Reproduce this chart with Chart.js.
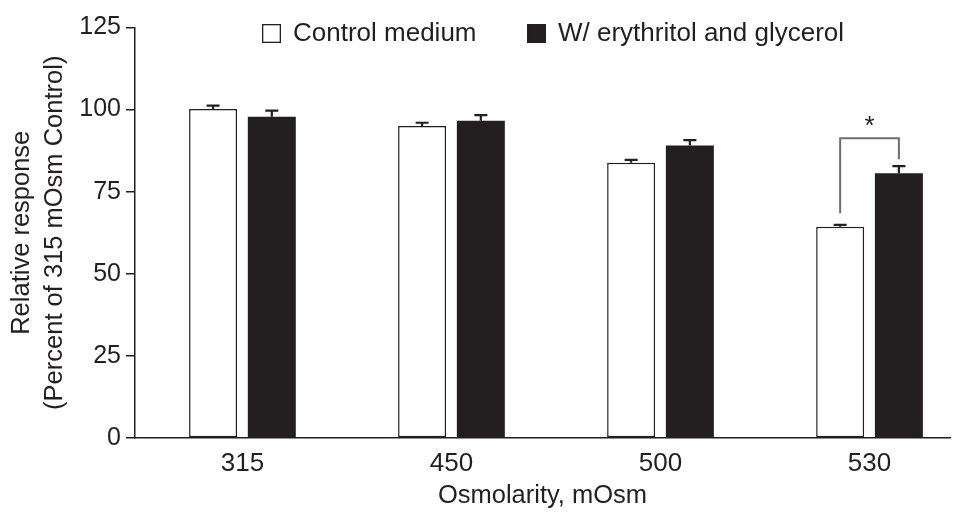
<!DOCTYPE html>
<html>
<head>
<meta charset="utf-8">
<script src="https://cdn.jsdelivr.net/npm/chart.js@4"></script>
<style>
  html, body { margin: 0; padding: 0; background: #fff; }
  #wrap { width: 958px; height: 513px; position: relative; }
</style>
</head>
<body>
<div id="wrap"><canvas id="osmChart"></canvas></div>
<script>
// data
const categories = ['315', '450', '500', '530'];
const controlValues = [100.2, 95.0, 83.8, 64.3];
const controlErrors = [1.0, 1.0, 0.9, 0.6];
const treatedValues = [97.8, 96.6, 89.1, 80.6];
const treatedErrors = [1.9, 1.7, 1.6, 2.2];
const seriesLabels = ['Control medium', 'W/ erythritol and glycerol'];
const yTicks = [0, 25, 50, 75, 100, 125];
// significance bracket: category index, top of bracket, bottom of each leg
const sigIndex = 3;
const sigTop = 91.3;
const sigLegs = [68.4, 84.9];

const INK = '#231f20';
const FONT = "'Liberation Sans', Arial, Helvetica, sans-serif";

const errorBars = {
  id: 'errorBars',
  afterDatasetsDraw(chart) {
    const { ctx, scales: { y } } = chart;
    const errs = [controlErrors, treatedErrors];
    ctx.save();
    ctx.strokeStyle = INK; ctx.lineWidth = 2.2;
    chart.data.datasets.forEach((ds, di) => {
      chart.getDatasetMeta(di).data.forEach((bar, i) => {
        const top = y.getPixelForValue(ds.data[i].y);
        const end = y.getPixelForValue(ds.data[i].y + errs[di][i]);
        ctx.beginPath();
        ctx.moveTo(bar.x, top); ctx.lineTo(bar.x, end);
        ctx.moveTo(bar.x - 6.5, end); ctx.lineTo(bar.x + 6.5, end);
        ctx.stroke();
      });
    });
    // bracket + star
    const a = chart.getDatasetMeta(0).data[sigIndex];
    const b = chart.getDatasetMeta(1).data[sigIndex];
    const yt = y.getPixelForValue(sigTop);
    ctx.strokeStyle = '#6d6e71'; ctx.lineWidth = 2;
    ctx.beginPath();
    ctx.moveTo(a.x, y.getPixelForValue(sigLegs[0]));
    ctx.lineTo(a.x, yt); ctx.lineTo(b.x, yt);
    ctx.lineTo(b.x, y.getPixelForValue(sigLegs[1]));
    ctx.stroke();
    ctx.fillStyle = INK; ctx.font = '26px ' + FONT;
    ctx.textAlign = 'center'; ctx.textBaseline = 'alphabetic';
    ctx.fillText('*', (a.x + b.x) / 2, yt - 4);
    ctx.restore();
  }
};

const legendInside = {
  id: 'legendInside',
  afterDraw(chart) {
    const { ctx } = chart;
    const items = [{ x: 262, fill: '#fff' }, { x: 527, fill: INK }];
    ctx.save();
    ctx.font = '26px ' + FONT;
    ctx.textBaseline = 'middle'; ctx.textAlign = 'left';
    items.forEach((it, i) => {
      ctx.fillStyle = it.fill;
      ctx.fillRect(it.x, 24, 19, 19);
      ctx.strokeStyle = INK; ctx.lineWidth = 1.3;
      ctx.strokeRect(it.x + 0.65, 24.65, 17.7, 17.7);
      ctx.fillStyle = INK;
      ctx.fillText(seriesLabels[i], it.x + 31, 34);
    });
    ctx.restore();
  }
};

const idx = categories.map((c, i) => i);

new Chart(document.getElementById('osmChart'), {
  type: 'bar',
  data: {
    datasets: [
      { label: seriesLabels[0], data: idx.map(i => ({ x: i, y: controlValues[i] })),
        backgroundColor: '#fff', borderColor: INK, borderWidth: 1.5, borderSkipped: false },
      { label: seriesLabels[1], data: idx.map(i => ({ x: i, y: treatedValues[i] })),
        backgroundColor: INK, borderColor: INK, borderWidth: 0 }
    ]
  },
  options: {
    responsive: true, maintainAspectRatio: false, animation: false,
    categoryPercentage: 0.562, barPercentage: 0.817,
    layout: { padding: { top: 27.5, right: 8, left: 0, bottom: 0 } },
    plugins: { legend: { display: false }, tooltip: { enabled: false } },
    scales: {
      x: {
        type: 'linear', min: -0.514, max: 3.385, offset: false,
        afterBuildTicks: ax => { ax.ticks = idx.map(v => ({ value: v })); },
        afterFit: ax => { ax.height = 75; },
        grid: { display: false },
        border: { display: true, color: INK, width: 1.5 },
        ticks: { color: INK, font: { family: FONT, size: 26 }, padding: 2,
                 callback: v => categories[v] ?? '' },
        title: { display: true, text: 'Osmolarity, mOsm', color: INK,
                 font: { family: FONT, size: 25.5, lineHeight: 1.2 }, padding: { top: 0, bottom: 2 } }
      },
      y: {
        min: 0, max: 125,
        afterBuildTicks: ax => { ax.ticks = yTicks.map(v => ({ value: v })); },
        afterFit: ax => { ax.width = 135; },
        grid: { drawOnChartArea: false, drawTicks: true, tickLength: 9, color: INK, lineWidth: 1.5 },
        border: { display: true, color: INK, width: 1.5 },
        ticks: { color: INK, font: { family: FONT, size: 25 }, padding: 5 },
        title: { display: true, text: ['Relative response', '(Percent of 315 mOsm Control)'], color: INK,
                 font: { family: FONT, size: 25.5, lineHeight: 1.3 }, padding: { top: 5.5, bottom: 0 } }
      }
    }
  },
  plugins: [errorBars, legendInside]
});
</script>
</body>
</html>
